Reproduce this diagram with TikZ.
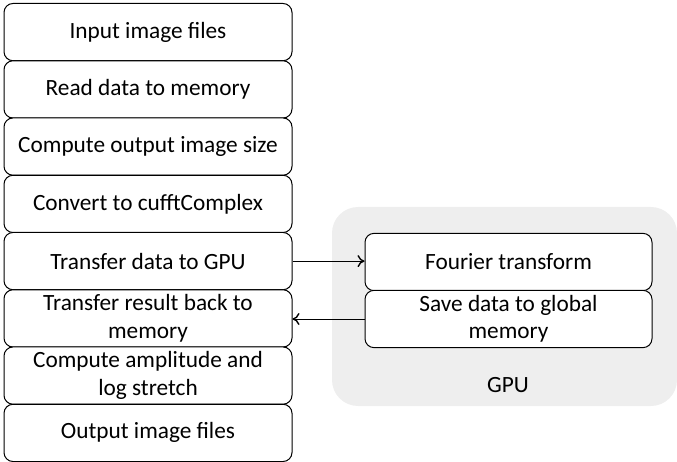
\documentclass[tikz,border=0pt]{standalone}
\usepackage{fontspec}
\setmainfont{Carlito}
\usetikzlibrary{arrows.meta}

\begin{document}
\begin{tikzpicture}[x=1pt, y=-1pt,
  stepbox/.style={draw, rounded corners=9pt, line width=1pt, fill=white,
    minimum width=288pt, minimum height=57.25pt, align=center,
    inner sep=0pt, font=\fontsize{23.3}{27.5}\selectfont},
  flow/.style={-{To[length=7pt, width=12pt, line width=1.4pt]}, line width=1pt}]
  \useasboundingbox (0,0) rectangle (677,462);

  % GPU area
  \fill[gray!13, rounded corners=26pt] (332,207) rectangle (677,406);
  \node[font=\fontsize{23.3}{26}\selectfont] (gpu) at (508,385) {GPU};

  % Define nodes
  \node[stepbox] (input)    at (148,32.1)  {Input image files};
  \node[stepbox] (read)     at (148,89.4)  {Read data to memory};
  \node[stepbox] (size)     at (148,146.6) {Compute output image size};
  \node[stepbox] (convert)  at (148,203.9) {Convert to cufftComplex};
  \node[stepbox] (transfer) at (148,261.1) {Transfer data to GPU};
  \node[stepbox] (back)     at (148,318.4) {Transfer result back to\\memory};
  \node[stepbox] (amp)      at (148,375.6) {Compute amplitude and\\log stretch};
  \node[stepbox] (output)   at (148,432.9) {Output image files};

  \node[stepbox, minimum width=287pt] (fft)  at (508.5,262) {Fourier transform};
  \node[stepbox, minimum width=287pt] (save) at (508.5,319) {Save data to global\\memory};

  % Draw edges
  \draw[flow] (transfer.east) -- (transfer.east -| fft.west);
  \draw[flow] (save.west) -- (save.west -| back.east);
\end{tikzpicture}
\end{document}
